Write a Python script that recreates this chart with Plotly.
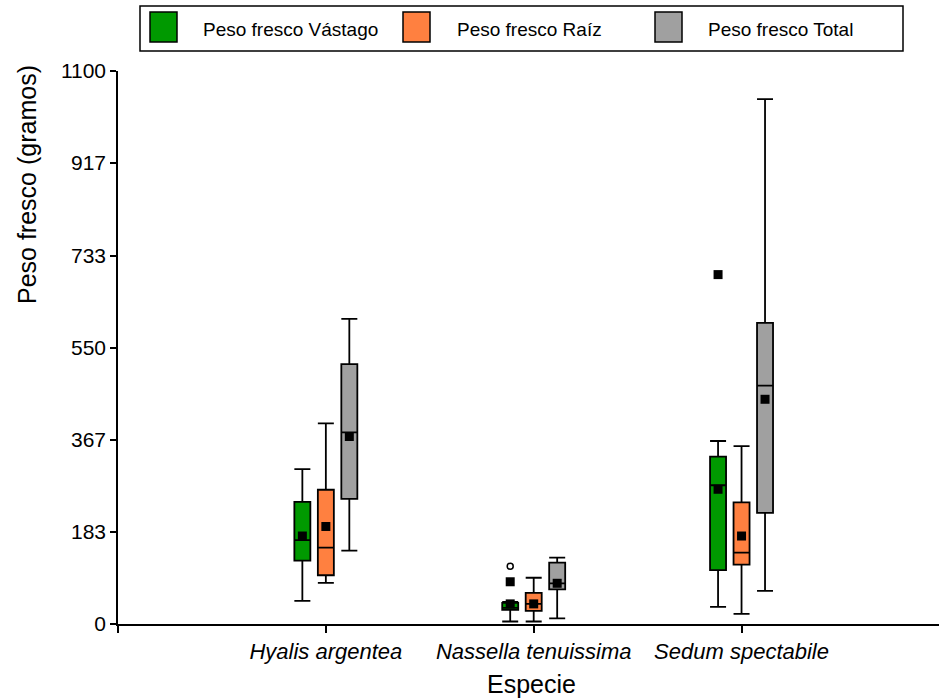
import plotly.graph_objects as go

# ---------------- data ----------------
species = ["Hyalis argentea", "Nassella tenuissima", "Sedum spectabile"]
series_names = ["Peso fresco Vástago", "Peso fresco Raíz", "Peso fresco Total"]

vastago_lower = [46, 5, 34]
vastago_q1 = [126, 28, 107]
vastago_median = [167, 32, 276]
vastago_q3 = [243, 42, 333]
vastago_upper = [308, 44, 364]
vastago_mean = [175, 40, 268]

raiz_lower = [82, 5, 20]
raiz_q1 = [97, 26, 118]
raiz_median = [152, 40, 142]
raiz_q3 = [267, 62, 242]
raiz_upper = [399, 92, 354]
raiz_mean = [194, 40, 175]

total_lower = [146, 11, 66]
total_q1 = [249, 69, 221]
total_median = [381, 81, 474]
total_q3 = [517, 122, 599]
total_upper = [607, 132, 1044]
total_mean = [373, 81, 447]

# outliers (species index, value)
vastago_out_filled_species = [1, 2]
vastago_out_filled_values = [84, 695]
vastago_out_open_species = [1]
vastago_out_open_values = [115]

y_ticks = [0, 183, 367, 550, 733, 917, 1100]

# ---------------- styling ----------------
colors = ["#009900", "#FF8040", "#A0A0A0"]
offsets = [-0.113, 0.0, 0.113]
box_w = 0.077
FONT = "Liberation Sans, Arial, sans-serif"

stats = [
    (vastago_lower, vastago_q1, vastago_median, vastago_q3, vastago_upper, vastago_mean),
    (raiz_lower, raiz_q1, raiz_median, raiz_q3, raiz_upper, raiz_mean),
    (total_lower, total_q1, total_median, total_q3, total_upper, total_mean),
]

fig = go.Figure()
cat_pos = [i + 1 for i in range(len(species))]

for s, (lo, q1, med, q3, up, mean) in enumerate(stats):
    xs = [c + offsets[s] for c in cat_pos]
    fig.add_trace(go.Box(
        x=xs, q1=q1, median=med, q3=q3, lowerfence=lo, upperfence=up,
        name=series_names[s], width=box_w, whiskerwidth=1,
        fillcolor=colors[s], line=dict(color="black", width=1.8),
        boxpoints=False, showlegend=False, hoverinfo="skip",
    ))

for s, (lo, q1, med, q3, up, mean) in enumerate(stats):
    xs = [c + offsets[s] for c in cat_pos]
    fig.add_trace(go.Scatter(
        x=xs, y=mean, mode="markers", showlegend=False,
        marker=dict(symbol="square", size=9, color="black"),
    ))

fig.add_trace(go.Scatter(
    x=[cat_pos[i] + offsets[0] for i in vastago_out_filled_species],
    y=vastago_out_filled_values, mode="markers", showlegend=False,
    marker=dict(symbol="square", size=9, color="black"),
))
fig.add_trace(go.Scatter(
    x=[cat_pos[i] + offsets[0] for i in vastago_out_open_species],
    y=vastago_out_open_values, mode="markers", showlegend=False,
    marker=dict(symbol="circle-open", size=6, color="black", line=dict(width=1.5)),
))

# ---------------- layout ----------------
L, R, T, B = 118, 0, 71, 76
W, H = 939, 700
PW, PH = W - L - R, H - T - B


def px(xp):
    return (xp - L) / PW


def py(yp):
    return (H - B - yp) / PH


shapes = []
annotations = []
# manual legend
shapes.append(dict(type="rect", xref="paper", yref="paper",
                   x0=px(140), x1=px(903), y0=py(51), y1=py(6),
                   line=dict(color="black", width=1.5), fillcolor="white"))
sw_x = [150, 403, 655]
tx_x = [201, 455, 706]
for s in range(3):
    shapes.append(dict(type="rect", xref="paper", yref="paper",
                       x0=px(sw_x[s]), x1=px(sw_x[s] + 27), y0=py(42), y1=py(12),
                       line=dict(color="black", width=1.5), fillcolor=colors[s]))
    annotations.append(dict(xref="paper", yref="paper", x=px(tx_x[s]), y=py(29),
                            text=series_names[s], showarrow=False,
                            xanchor="left", yanchor="middle",
                            font=dict(family=FONT, size=19, color="black")))

annotations.append(dict(xref="paper", yref="paper", x=px(27), y=py(185),
                        text="Peso fresco (gramos)", textangle=-90, showarrow=False,
                        xanchor="center", yanchor="middle",
                        font=dict(family=FONT, size=25, color="black")))
annotations.append(dict(xref="paper", yref="paper", x=px(531), y=py(684),
                        text="Especie", showarrow=False,
                        xanchor="center", yanchor="middle",
                        font=dict(family=FONT, size=25, color="black")))

fig.update_layout(
    width=W, height=H,
    margin=dict(l=L, r=R, t=T, b=B, pad=0),
    paper_bgcolor="white", plot_bgcolor="white",
    showlegend=False,
    shapes=shapes, annotations=annotations,
    xaxis=dict(range=[0, 3.95], tickvals=[0] + cat_pos,
               ticktext=[""] + ["<i>" + sp + "</i>" for sp in species],
               showline=True, linecolor="black", linewidth=1.5,
               ticks="outside", ticklen=7, tickwidth=1.5, tickcolor="black",
               showgrid=False, zeroline=False,
               tickfont=dict(family=FONT, size=22, color="black")),
    yaxis=dict(range=[0, 1100], tickvals=y_ticks, ticktext=[str(v) for v in y_ticks],
               showline=True, linecolor="black", linewidth=1.5,
               ticks="outside", ticklen=6, tickwidth=1.5, tickcolor="black",
               showgrid=False, zeroline=False,
               tickfont=dict(family=FONT, size=21, color="black")),
)

fig.write_html("out.html")
